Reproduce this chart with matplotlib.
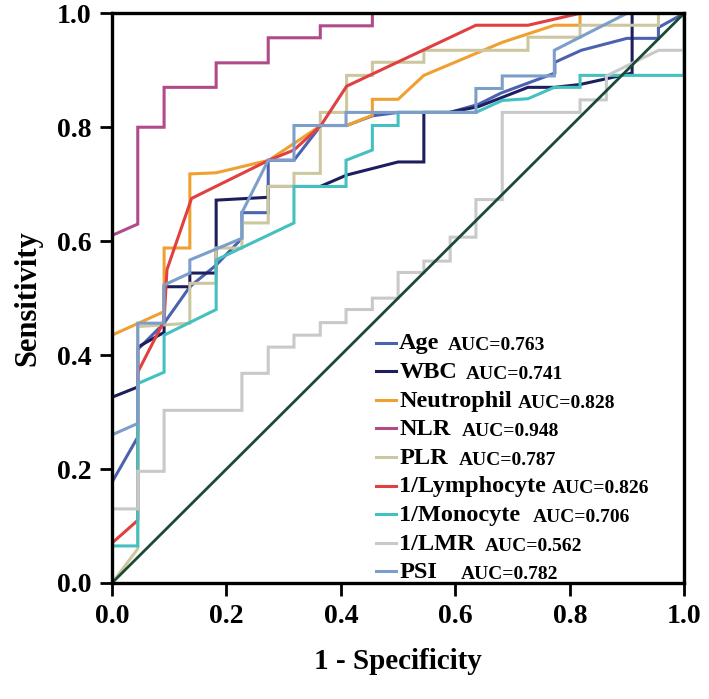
import matplotlib.pyplot as plt

# ---------------------------------------------------------------------
# Data: ROC curves (1 - specificity, sensitivity)
# ---------------------------------------------------------------------
labels = ["Age", "WBC", "Neutrophil", "NLR", "PLR",
          "1/Lymphocyte", "1/Monocyte", "1/LMR", "PSI"]
auc_text = ["AUC=0.763", "AUC=0.741", "AUC=0.828", "AUC=0.948", "AUC=0.787",
            "AUC=0.826", "AUC=0.706", "AUC=0.562", "AUC=0.782"]

age_x = [0, 0.045, 0.045, 0.091, 0.136, 0.182, 0.227, 0.227, 0.273, 0.273, 0.318,
         0.365, 0.41, 0.455, 0.5, 0.59, 0.64, 0.68, 0.774, 0.774, 0.82, 0.9, 0.955, 0.955, 1.0]
age_y = [0.177, 0.256, 0.41, 0.456, 0.52, 0.558, 0.605, 0.65, 0.65, 0.742, 0.742,
         0.803, 0.803, 0.82, 0.826, 0.826, 0.84, 0.86, 0.895, 0.914, 0.935, 0.956, 0.956, 0.975, 1.0]

wbc_x = [0, 0.045, 0.045, 0.091, 0.091, 0.136, 0.136, 0.182, 0.182, 0.273, 0.273, 0.364,
         0.41, 0.5, 0.545, 0.545, 0.59, 0.64, 0.727, 0.773, 0.818, 0.909, 0.909, 1.0]
wbc_y = [0.326, 0.344, 0.414, 0.44, 0.52, 0.52, 0.544, 0.544, 0.672, 0.677, 0.696, 0.696,
         0.716, 0.739, 0.739, 0.826, 0.826, 0.836, 0.87, 0.87, 0.875, 0.895, 1.0, 1.0]

neu_x = [0, 0.088, 0.091, 0.091, 0.136, 0.136, 0.182, 0.274, 0.365, 0.41, 0.455, 0.455,
         0.5, 0.545, 0.682, 0.773, 0.818, 0.818, 1.0]
neu_y = [0.435, 0.475, 0.475, 0.588, 0.588, 0.718, 0.72, 0.742, 0.803, 0.803, 0.821, 0.849,
         0.849, 0.891, 0.949, 0.979, 0.979, 1.0, 1.0]

nlr_x = [0, 0.045, 0.045, 0.091, 0.091, 0.182, 0.182, 0.273, 0.273, 0.364, 0.364,
         0.455, 0.455, 1.0]
nlr_y = [0.61, 0.63, 0.80, 0.80, 0.87, 0.87, 0.913, 0.913, 0.957, 0.957, 0.978,
         0.978, 1.0, 1.0]

plr_x = [0, 0.045, 0.045, 0.136, 0.136, 0.182, 0.182, 0.227, 0.227, 0.273, 0.273, 0.318,
         0.318, 0.364, 0.364, 0.41, 0.41, 0.455, 0.455, 0.545, 0.545, 0.727, 0.727,
         0.818, 0.818, 0.955, 0.955, 1.0]
plr_y = [0, 0.06, 0.45, 0.456, 0.526, 0.526, 0.588, 0.588, 0.632, 0.632, 0.696, 0.696,
         0.719, 0.719, 0.826, 0.826, 0.891, 0.891, 0.914, 0.914, 0.935, 0.935, 0.958,
         0.958, 0.979, 0.979, 1.0, 1.0]

lym_x = [0, 0.045, 0.045, 0.091, 0.096, 0.139, 0.274, 0.318, 0.365, 0.41, 0.636,
         0.727, 0.818, 1.0]
lym_y = [0.07, 0.11, 0.37, 0.46, 0.55, 0.675, 0.742, 0.76, 0.803, 0.872, 0.979,
         0.979, 1.0, 1.0]

mono_x = [0, 0.045, 0.045, 0.091, 0.091, 0.182, 0.182, 0.318, 0.318, 0.409, 0.409,
          0.455, 0.455, 0.5, 0.5, 0.636, 0.682, 0.727, 0.773, 0.818, 0.818, 1.0, 1.0]
mono_y = [0.065, 0.065, 0.35, 0.37, 0.435, 0.48, 0.567, 0.632, 0.696, 0.696, 0.742,
          0.76, 0.803, 0.803, 0.826, 0.826, 0.847, 0.85, 0.87, 0.87, 0.891, 0.891, 1.0]

lmr_x = [0, 0, 0.045, 0.045, 0.091, 0.091, 0.227, 0.227, 0.273, 0.273, 0.318, 0.318,
         0.364, 0.364, 0.409, 0.409, 0.455, 0.455, 0.5, 0.5, 0.545, 0.545, 0.591,
         0.591, 0.636, 0.636, 0.682, 0.682, 0.818, 0.818, 0.864, 0.864, 0.955, 1.0, 1.0]
lmr_y = [0, 0.13, 0.13, 0.196, 0.196, 0.303, 0.303, 0.368, 0.368, 0.414, 0.414, 0.435,
         0.435, 0.457, 0.457, 0.48, 0.48, 0.50, 0.50, 0.545, 0.545, 0.565, 0.565,
         0.607, 0.607, 0.673, 0.673, 0.826, 0.826, 0.848, 0.848, 0.89, 0.935, 0.935, 1.0]

psi_x = [0, 0.045, 0.045, 0.091, 0.091, 0.136, 0.136, 0.227, 0.227, 0.273, 0.318, 0.318,
         0.409, 0.409, 0.636, 0.636, 0.682, 0.682, 0.773, 0.773, 0.9, 1.0]
psi_y = [0.26, 0.28, 0.456, 0.456, 0.523, 0.544, 0.567, 0.605, 0.65, 0.742, 0.742, 0.803,
         0.803, 0.826, 0.826, 0.868, 0.868, 0.89, 0.89, 0.935, 1.0, 1.0]

curves_x = [age_x, wbc_x, neu_x, nlr_x, plr_x, lym_x, mono_x, lmr_x, psi_x]
curves_y = [age_y, wbc_y, neu_y, nlr_y, plr_y, lym_y, mono_y, lmr_y, psi_y]
colors = ["#4a62b0", "#1e1e5e", "#f0a030", "#b04a8a", "#cdc7a0",
          "#e04040", "#44c0c0", "#c9c9c9", "#7c9ecb"]
# gap (points) between a legend name and its AUC text
auc_gap = [6, 6, 4, 8, 8, 4, 9, 7, 17]

ref_x = [0, 1]
ref_y = [0, 1]

# ---------------------------------------------------------------------
# Figure
# ---------------------------------------------------------------------
plt.rcParams['font.family'] = 'Liberation Serif'
plt.rcParams['font.weight'] = 'bold'

fig = plt.figure(figsize=(7.09, 6.99), dpi=100)
ax = fig.add_axes([0.158, 0.166, 0.807, 0.815])

for xs, ys, c in zip(curves_x, curves_y, colors):
    ax.plot(xs, ys, color=c, lw=2.2, solid_joinstyle='miter')
ax.plot(ref_x, ref_y, color="#1b4a33", lw=2.0)

ax.set_xlim(0, 1)
ax.set_ylim(0, 1)
ax.set_xticks([0, 0.2, 0.4, 0.6, 0.8, 1.0])
ax.set_yticks([0, 0.2, 0.4, 0.6, 0.8, 1.0])
ax.set_xticklabels(["0.0", "0.2", "0.4", "0.6", "0.8", "1.0"])
ax.set_yticklabels(["0.0", "0.2", "0.4", "0.6", "0.8", "1.0"])
ax.tick_params(direction='out', length=9, width=2, labelsize=20, pad=6)
for s in ax.spines.values():
    s.set_linewidth(2.4)

ax.set_xlabel("1 - Specificity", fontsize=21, fontweight='bold', labelpad=14)
ax.set_ylabel("Sensitivity", fontsize=22, fontweight='bold', labelpad=10)

# legend drawn row by row (name large, AUC smaller)
row_y = 0.41
step = 0.0502
for i, (lab, auc, c) in enumerate(zip(labels, auc_text, colors)):
    y = row_y - i * step
    ax.plot([0.461, 0.496], [y + 0.012, y + 0.012], color=c, lw=2.2)
    t = ax.text(0.502, y, lab, fontsize=17.5, fontweight='bold', va='baseline')
    ax.annotate(auc, xy=(1, 0), xycoords=t, xytext=(auc_gap[i], 0),
                textcoords='offset points', fontsize=14, fontweight='bold',
                va='bottom')

fig.savefig("out.png", dpi=100)
